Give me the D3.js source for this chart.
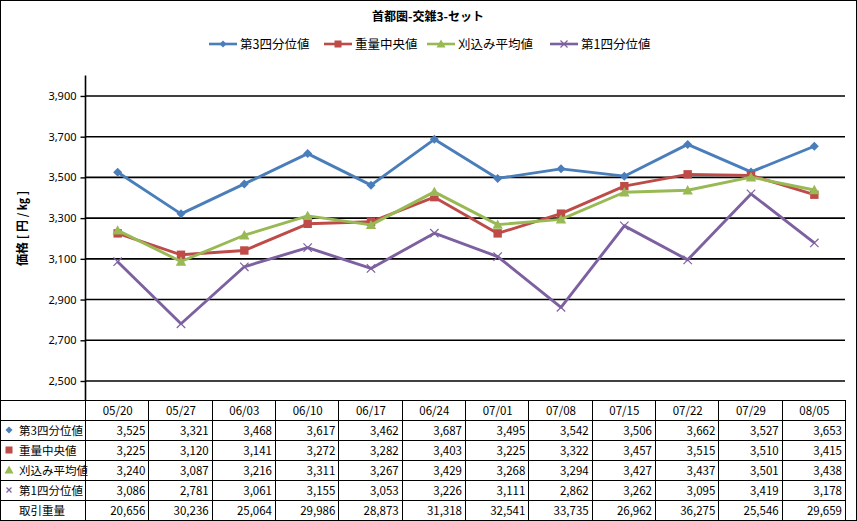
<!DOCTYPE html>
<html>
<head>
<meta charset="utf-8">
<script src="https://cdn.jsdelivr.net/npm/d3@7"></script>
<style>
  body { margin: 0; background: #fff; }
  svg { display: block; font-family: "Noto Sans CJK JP", "Noto Sans", sans-serif; }
</style>
</head>
<body>
<svg id="chart" width="857" height="521"></svg>
<script>
const dates = ["05/20", "05/27", "06/03", "06/10", "06/17", "06/24", "07/01", "07/08", "07/15", "07/22", "07/29", "08/05"];
const q3 = [3525, 3321, 3468, 3617, 3462, 3687, 3495, 3542, 3506, 3662, 3527, 3653];
const median = [3225, 3120, 3141, 3272, 3282, 3403, 3225, 3322, 3457, 3515, 3510, 3415];
const trimmed = [3240, 3087, 3216, 3311, 3267, 3429, 3268, 3294, 3427, 3437, 3501, 3438];
const q1 = [3086, 2781, 3061, 3155, 3053, 3226, 3111, 2862, 3262, 3095, 3419, 3178];
const volume = [20656, 30236, 25064, 29986, 28873, 31318, 32541, 33735, 26962, 36275, 25546, 29659];
const yTicks = [2500, 2700, 2900, 3100, 3300, 3500, 3700, 3900];

const series = [
  { name: "第3四分位値", values: q3, color: "#4a7ebb", marker: "diamond" },
  { name: "重量中央値", values: median, color: "#be4b48", marker: "square" },
  { name: "刈込み平均値", values: trimmed, color: "#98b954", marker: "triangle" },
  { name: "第1四分位値", values: q1, color: "#7d60a0", marker: "cross" }
];

const svg = d3.select("#chart");
const W = 857, H = 521;
const left = 86, right = 846, plotTop = 75.6, plotBottom = 381, tableTop = 400, rowH = 20;

// outer border
svg.append("rect").attr("x", 0.5).attr("y", 0.5).attr("width", W - 1).attr("height", H - 1)
  .attr("fill", "#fff").attr("stroke", "#000");

const x = d3.scaleBand().domain(dates).range([left, right]);
const cx = d => x(d) + x.bandwidth() / 2;
const y = d3.scaleLinear().domain([2500, 4000]).range([plotBottom, plotTop]);

// title
svg.append("text").attr("x", 428).attr("y", 21).attr("text-anchor", "middle")
  .attr("font-size", 12).attr("font-weight", "bold").text("首都圏-交雑3-セット");

// gridlines
svg.append("g").selectAll("line").data(yTicks).join("line")
  .attr("x1", left - 1).attr("x2", right - 1)
  .attr("y1", d => y(d)).attr("y2", d => y(d))
  .attr("stroke", "#000").attr("stroke-width", 1.6);

// y axis
const yAxis = svg.append("g").attr("transform", `translate(${left - 0.5},0)`)
  .call(d3.axisLeft(y).tickValues(yTicks).tickSize(5).tickSizeOuter(0).tickFormat(d3.format(",")));
yAxis.select(".domain").remove();
yAxis.selectAll(".tick line").attr("stroke", "#000").attr("stroke-width", 1.4);
yAxis.selectAll(".tick text").attr("font-size", 11).attr("x", -9).attr("fill", "#000")
  .attr("font-family", "'Noto Sans', sans-serif");
svg.append("line").attr("x1", left - 0.5).attr("x2", left - 0.5).attr("y1", plotTop).attr("y2", tableTop)
  .attr("stroke", "#000").attr("stroke-width", 1.6);

// y label
svg.append("text").attr("transform", `translate(27,${(plotTop + plotBottom) / 2}) rotate(-90)`)
  .attr("text-anchor", "middle").attr("font-size", 12).attr("font-weight", "bold")
  .text("価格 [ 円 / ㎏ ]");

function drawMarker(g, type, color, size) {
  const s = size;
  if (type === "diamond") {
    g.append("path").attr("d", `M0,${-s}L${s},0L0,${s}L${-s},0Z`).attr("fill", color);
  } else if (type === "square") {
    g.append("rect").attr("x", -s).attr("y", -s).attr("width", 2 * s).attr("height", 2 * s).attr("fill", color);
  } else if (type === "triangle") {
    g.append("path").attr("d", `M0,${-s - 1}L${s + 1},${s}L${-s - 1},${s}Z`).attr("fill", color);
  } else {
    g.append("path").attr("d", `M${-s},${-s}L${s},${s}M${-s},${s}L${s},${-s}`)
      .attr("stroke", color).attr("stroke-width", 1.2).attr("fill", "none");
  }
}

// lines + markers
const line = d3.line().x((d, i) => cx(dates[i])).y(d => y(d));
series.forEach(s => {
  svg.append("path").datum(s.values).attr("d", line).attr("fill", "none")
    .attr("stroke", s.color).attr("stroke-width", 2.9).attr("stroke-linejoin", "round");
  s.values.forEach((v, i) => {
    const g = svg.append("g").attr("transform", `translate(${cx(dates[i])},${y(v)})`);
    drawMarker(g, s.marker, s.color, s.marker === "diamond" ? 4.5 : 4.2);
  });
});

// legend
const legendX = [209, 324, 427, 550];
series.forEach((s, i) => {
  const g = svg.append("g").attr("transform", `translate(${legendX[i]},44)`);
  g.append("line").attr("x1", 0).attr("x2", 28).attr("stroke", s.color).attr("stroke-width", 2.6);
  const m = g.append("g").attr("transform", "translate(14,0)");
  drawMarker(m, s.marker, s.color, 3.5);
  g.append("text").attr("x", 31).attr("y", 4.5).attr("font-size", 12.5).text(s.name);
});

// data table
const rows = [
  ...series.map(s => ({ label: s.name, values: s.values, color: s.color, marker: s.marker })),
  { label: "取引重量", values: volume, color: null, marker: null }
];
const tg = svg.append("g");
// horizontal lines
d3.range(rows.length + 2).forEach(r => {
  const yy = tableTop + r * rowH + 0.5;
  tg.append("line").attr("x1", 0).attr("x2", right).attr("y1", yy).attr("y2", yy).attr("stroke", "#000");
});
// vertical lines
[left, ...dates.map(d => x(d) + x.bandwidth())].forEach(xx => {
  tg.append("line").attr("x1", Math.round(xx) - 0.5).attr("x2", Math.round(xx) - 0.5)
    .attr("y1", tableTop).attr("y2", tableTop + rowH * (rows.length + 1)).attr("stroke", "#000");
});
// header
tg.selectAll("text.hd").data(dates).join("text").attr("class", "hd")
  .attr("x", d => cx(d)).attr("y", tableTop + 14.5).attr("text-anchor", "middle")
  .attr("font-size", 11.5).text(d => d);
rows.forEach((r, ri) => {
  const yy = tableTop + (ri + 1) * rowH;
  if (r.marker) {
    const m = tg.append("g").attr("transform", `translate(9,${yy + 10})`);
    drawMarker(m, r.marker, r.color, r.marker === "cross" ? 2.5 : 3.5);
  }
  tg.append("text").attr("x", 19).attr("y", yy + 14.5).attr("font-size", 11.5).text(r.label);
  tg.selectAll(null).data(r.values).join("text")
    .attr("x", (d, i) => x(dates[i]) + x.bandwidth() - 4).attr("y", yy + 14.5)
    .attr("text-anchor", "end").attr("font-size", 11.5).text(d => d3.format(",")(d));
});
</script>
</body>
</html>
